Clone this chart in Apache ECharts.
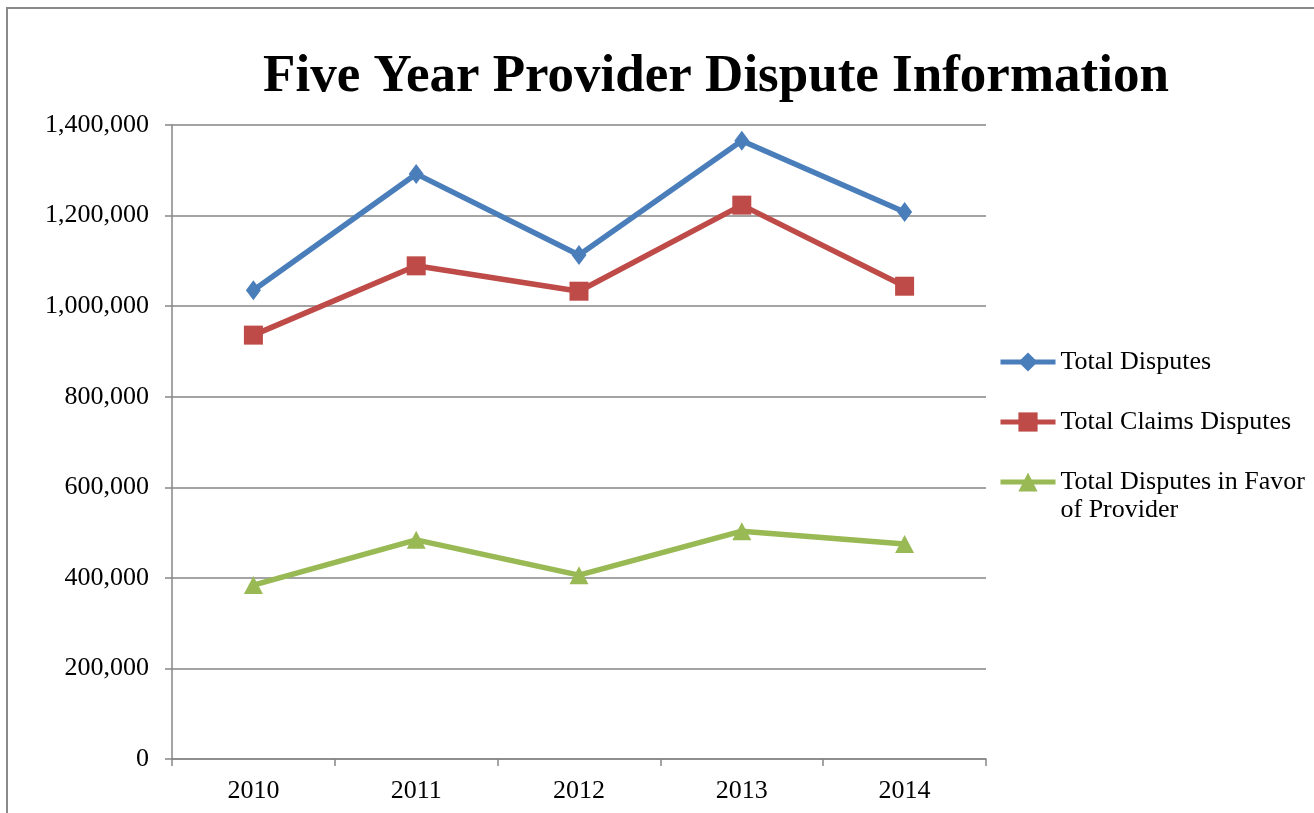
<!DOCTYPE html>
<html>
<head>
<meta charset="utf-8">
<title>Five Year Provider Dispute Information</title>
<script src="https://cdn.jsdelivr.net/npm/echarts@6/dist/echarts.min.js"></script>
<style>
  html, body { margin: 0; padding: 0; background: #fff; overflow: hidden; }
  /* outer chart-area frame, runs off the right and bottom edges */
  .frame {
    position: absolute; left: 6px; top: 7px;
    width: 1400px; height: 900px;
    border: 2px solid #8a8a8a;
  }
  #chart { position: absolute; left: 0; top: 0; width: 1314px; height: 813px; }
</style>
</head>
<body>
<div class="frame"></div>
<div id="chart"></div>
<script>
const years = ['2010', '2011', '2012', '2013', '2014'];
const totalDisputes = [1035000, 1292000, 1113000, 1365000, 1208000];
const claimsDisputes = [936000, 1089000, 1033000, 1223000, 1044000];
const favorProvider = [384000, 484000, 406000, 503000, 475000];
const yTicks = [0, 200000, 400000, 600000, 800000, 1000000, 1200000, 1400000];

const serif = '"Liberation Serif", "Times New Roman", serif';
const gray = '#868686';
const favorName = 'Total Disputes in Favor of Provider';

const chart = echarts.init(document.getElementById('chart'));

// shared legend look
const legendBase = {
  orient: 'vertical',
  left: 993,
  itemWidth: 55,
  itemHeight: 24,
  itemGap: 32,
  lineStyle: { width: 5 },
  textStyle: { fontFamily: serif, fontSize: 26, color: '#000', lineHeight: 28 }
};

const option = {
  backgroundColor: 'transparent',
  animation: false,
  title: {
    text: 'Five Year Provider Dispute Information',
    left: 711,
    top: 46,
    textAlign: 'center',
    textStyle: {
      fontFamily: serif,
      fontWeight: 'bold',
      fontSize: 53,
      color: '#000'
    }
  },
  legend: [
    Object.assign({}, legendBase, {
      top: 343,
      data: ['Total Disputes', 'Total Claims Disputes']
    }),
    Object.assign({}, legendBase, {
      top: 435,
      data: [favorName],
      // blank first line keeps the icon level with "Total Disputes in Favor"
      formatter: () => '\nTotal Disputes in Favor\nof Provider'
    })
  ],
  grid: {
    left: 172,
    right: 328,
    top: 125,
    bottom: 54,
    containLabel: false
  },
  xAxis: {
    type: 'category',
    data: years,
    boundaryGap: true,
    axisLine: { lineStyle: { color: gray, width: 1.5 } },
    axisTick: { show: true, length: 7, lineStyle: { color: gray, width: 1.5 } },
    axisLabel: { color: '#000', fontFamily: serif, fontSize: 26, margin: 19 }
  },
  yAxis: {
    type: 'value',
    min: yTicks[0],
    max: yTicks[yTicks.length - 1],
    interval: yTicks[1] - yTicks[0],
    axisLine: { show: true, lineStyle: { color: gray, width: 1.5 } },
    axisTick: { show: true, length: 7, lineStyle: { color: gray, width: 1.5 } },
    axisLabel: {
      color: '#000',
      fontFamily: serif,
      fontSize: 26,
      margin: 23,
      formatter: v => v.toLocaleString('en-US')
    },
    splitLine: { lineStyle: { color: gray, width: 1.5 } }
  },
  series: [
    {
      name: 'Total Disputes',
      type: 'line',
      data: totalDisputes,
      symbol: 'diamond',
      symbolSize: [15, 20],
      lineStyle: { color: '#4a7ebb', width: 5.5 },
      itemStyle: { color: '#4a7ebb' }
    },
    {
      name: 'Total Claims Disputes',
      type: 'line',
      data: claimsDisputes,
      symbol: 'rect',
      symbolSize: 19,
      lineStyle: { color: '#be4b48', width: 5.5 },
      itemStyle: { color: '#be4b48' }
    },
    {
      name: favorName,
      type: 'line',
      data: favorProvider,
      symbol: 'triangle',
      symbolSize: [19, 18],
      lineStyle: { color: '#98b954', width: 5.5 },
      itemStyle: { color: '#98b954' }
    }
  ]
};

chart.setOption(option);

window.addEventListener('resize', () => {
  chart.resize();
});
</script>
</body>
</html>
